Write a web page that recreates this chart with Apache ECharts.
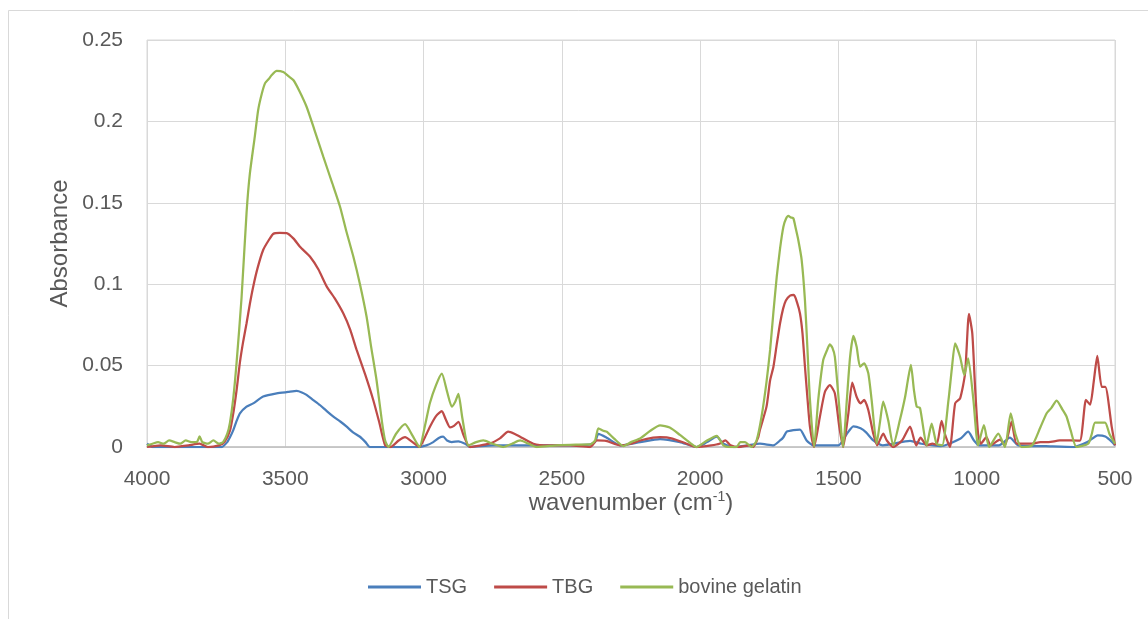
<!DOCTYPE html>
<html>
<head>
<meta charset="utf-8">
<script src="https://cdn.jsdelivr.net/npm/echarts@6/dist/echarts.min.js"></script>
<style>
html,body{margin:0;padding:0;background:#fff;}
#chart{width:1148px;height:619px;}
</style>
</head>
<body>
<div id="chart"></div>
<script>
// TSG
const tsgWn = [4000,3980,3900,3800,3730,3710,3700,3688,3676,3664,3640,3616,3580,3531,3490,3459,3440,3423,3400,3375,3350,3326,3300,3278,3255,3230,3210,3194,3100,3020,2990,2965,2945,2929,2915,2898,2874,2850,2832,2750,2650,2500,2400,2380,2368,2338,2289,2217,2145,2073,2013,1975,1940,1916,1880,1830,1784,1735,1711,1699,1687,1663,1639,1615,1590,1500,1470,1446,1420,1400,1374,1340,1241,1200,1130,1060,1031,1010,990,920,880,850,750,650,600,562,535,510,500];
const tsgAbs = [0.002,0.0,0.0,0.0,0.0,0.003,0.006,0.0104,0.016,0.0207,0.0248,0.0268,0.031,0.033,0.0338,0.0344,0.0335,0.032,0.029,0.0258,0.022,0.0186,0.0155,0.0125,0.009,0.0063,0.003,0.0,0.0,0.0,0.001,0.003,0.0055,0.0063,0.004,0.003,0.0035,0.002,0.0,0.001,0.001,0.001,0.0015,0.003,0.008,0.0057,0.001,0.003,0.0049,0.003,0.0,0.003,0.0063,0.002,0.0,0.001,0.002,0.001,0.004,0.006,0.0094,0.0104,0.0106,0.004,0.001,0.001,0.008,0.0127,0.0115,0.009,0.004,0.001,0.0037,0.002,0.0005,0.005,0.0094,0.004,0.001,0.001,0.0057,0.001,0.0005,0.0,0.003,0.0072,0.0065,0.003,0.001];

// TBG
const tbgWn = [4000,3950,3900,3850,3810,3780,3740,3720,3700,3688,3676,3664,3652,3640,3628,3616,3600,3580,3560,3543,3520,3495,3470,3447,3411,3380,3350,3320,3290,3265,3242,3210,3182,3160,3139,3120,3090,3067,3040,3015,2995,2977,2955,2934,2920,2904,2890,2874,2855,2832,2760,2724,2694,2670,2651,2603,2550,2470,2400,2390,2374,2340,2289,2250,2217,2170,2145,2100,2049,2013,1960,1930,1909,1890,1860,1820,1808,1790,1784,1760,1747,1735,1723,1711,1700,1690,1675,1661,1650,1639,1630,1621,1612,1603,1588,1567,1549,1531,1513,1497,1483,1464,1450,1434,1420,1407,1392,1374,1360,1338,1325,1302,1270,1241,1219,1203,1181,1160,1145,1127,1115,1097,1078,1060,1042,1028,1016,1006,995,985,965,950,916,898,874,855,800,770,740,700,660,627,605,590,577,564,548,535,512,500];
const tbgAbs = [0.0,0.001,0.0,0.001,0.002,0.0,0.001,0.003,0.01,0.0207,0.035,0.052,0.065,0.076,0.088,0.0985,0.110,0.121,0.127,0.131,0.1315,0.1314,0.128,0.123,0.117,0.109,0.0985,0.091,0.082,0.072,0.0596,0.044,0.0289,0.015,0.001,0.0,0.004,0.006,0.003,0.0,0.006,0.0125,0.019,0.022,0.017,0.012,0.013,0.0155,0.007,0.0,0.0022,0.0053,0.0094,0.008,0.0063,0.002,0.001,0.001,0.0,0.001,0.004,0.0037,0.001,0.002,0.004,0.0058,0.006,0.0052,0.002,0.0,0.001,0.002,0.004,0.001,0.0,0.001,0.0,0.006,0.0104,0.0248,0.041,0.0493,0.063,0.076,0.085,0.090,0.093,0.0934,0.089,0.082,0.070,0.0493,0.030,0.0125,0.0,0.0186,0.0338,0.038,0.033,0.0125,0.0,0.0207,0.0395,0.0307,0.0268,0.0289,0.0227,0.0082,0.001,0.0082,0.004,0.0,0.004,0.0125,0.001,0.0057,0.001,0.002,0.0015,0.016,0.008,0.0,0.0268,0.0299,0.0453,0.0817,0.0698,0.0369,0.008,0.002,0.006,0.001,0.0045,0.001,0.0156,0.002,0.002,0.003,0.003,0.004,0.004,0.0039,0.0289,0.026,0.040,0.0559,0.037,0.037,0.0125,0.001];

// bovine gelatin
const bovWn = [4000,3980,3960,3940,3920,3900,3880,3860,3840,3820,3810,3800,3780,3760,3740,3725,3710,3700,3688,3676,3658,3640,3628,3610,3598,3585,3573,3560,3549,3531,3507,3490,3471,3450,3423,3395,3362,3330,3302,3280,3254,3230,3206,3190,3170,3150,3139,3127,3100,3067,3040,3015,2995,2977,2955,2934,2915,2898,2885,2874,2860,2838,2810,2784,2750,2711,2680,2651,2620,2591,2519,2450,2398,2380,2368,2350,2338,2310,2277,2250,2217,2180,2145,2110,2073,2040,2013,1975,1940,1916,1890,1868,1855,1838,1814,1796,1778,1760,1747,1735,1723,1711,1699,1690,1681,1672,1663,1654,1645,1633,1621,1612,1603,1588,1573,1555,1540,1531,1522,1513,1501,1489,1483,1470,1458,1446,1434,1422,1407,1392,1380,1362,1350,1338,1320,1302,1278,1259,1248,1238,1227,1217,1205,1181,1163,1145,1125,1102,1090,1078,1060,1045,1031,1012,995,974,955,922,898,877,860,838,800,770,747,730,711,690,675,660,639,597,584,572,536,520,500];
const bovAbs = [0.001,0.002,0.003,0.002,0.004,0.003,0.002,0.004,0.003,0.003,0.0065,0.003,0.002,0.004,0.002,0.003,0.008,0.015,0.03,0.052,0.092,0.144,0.168,0.191,0.207,0.217,0.2235,0.226,0.2285,0.231,0.2303,0.228,0.2254,0.219,0.209,0.195,0.178,0.162,0.1476,0.133,0.117,0.100,0.080,0.062,0.041,0.015,0.004,0.0,0.008,0.014,0.007,0.0,0.013,0.027,0.038,0.045,0.034,0.0248,0.028,0.0326,0.018,0.001,0.003,0.004,0.002,0.0,0.002,0.004,0.002,0.0,0.001,0.0015,0.0016,0.004,0.0115,0.010,0.0094,0.005,0.0006,0.003,0.0053,0.010,0.0133,0.012,0.0074,0.003,0.0,0.004,0.0069,0.001,0.0,0.0,0.003,0.003,0.0,0.004,0.0186,0.04,0.0596,0.083,0.1046,0.122,0.1353,0.140,0.1419,0.141,0.1405,0.134,0.127,0.115,0.090,0.060,0.0289,0.0,0.0289,0.0534,0.060,0.063,0.061,0.0555,0.033,0.008,0.0,0.028,0.055,0.0682,0.0614,0.0493,0.0514,0.0453,0.0289,0.002,0.015,0.0278,0.0164,0.001,0.0164,0.0307,0.042,0.0504,0.035,0.0248,0.024,0.001,0.0143,0.002,0.001,0.0289,0.048,0.0637,0.0553,0.0442,0.0545,0.0289,0.001,0.0135,0.0,0.0082,0.0,0.0207,0.008,0.0,0.001,0.012,0.0207,0.024,0.0285,0.023,0.0186,0.010,0.0,0.002,0.008,0.015,0.015,0.008,0.002];

const seriesNames = ['TSG','TBG','bovine gelatin'];
const xTicks = {min:500, max:4000, interval:500};
const yTicks = {min:0, max:0.25, interval:0.05};

const pairs = (xs, ys) => xs.map((x,i)=>[x, ys[i]]);
const FONT = '"Liberation Sans", Arial, sans-serif';

const chart = echarts.init(document.getElementById('chart'), null, {renderer:'canvas'});
chart.setOption({
  animation:false,
  backgroundColor:'#fff',
  color:['#4A7EBB','#BE4B48','#98B954'],
  graphic:[{type:'rect', shape:{x:8.5,y:10.5,width:1300,height:800}, style:{fill:'none',stroke:'#d9d9d9',lineWidth:1}, silent:true, z:-10}],
  grid:{left:147, top:40, right:33, bottom:172, show:true, borderColor:'#d9d9d9', borderWidth:1},
  legend:{
    data:seriesNames, top:577, left:368, padding:0, itemWidth:53, itemHeight:3, itemGap:27,
    icon:'rect',
    textStyle:{fontFamily:FONT, fontSize:20, color:'#595959', padding:[0,0,0,0]}
  },
  xAxis:{
    type:'value', inverse:true, min:xTicks.min, max:xTicks.max, interval:xTicks.interval,
    name:'wavenumber (cm{sup|-1})', nameLocation:'middle', nameGap:43, nameMoveOverlap:false,
    nameTextStyle:{fontFamily:FONT, fontSize:24, color:'#595959',
      rich:{sup:{fontFamily:FONT, fontSize:14, color:'#595959', verticalAlign:'top', padding:[0,0,12,0]}}},
    axisLine:{show:true, onZero:false, lineStyle:{color:'#bfbfbf', width:1.5}},
    axisTick:{show:false},
    axisLabel:{fontFamily:FONT, fontSize:21, color:'#595959', margin:22, formatter:(v)=>String(v)},
    splitLine:{show:true, lineStyle:{color:'#d9d9d9', width:1}}
  },
  yAxis:{
    type:'value', min:yTicks.min, max:yTicks.max, interval:yTicks.interval,
    name:'Absorbance', nameLocation:'middle', nameGap:75, nameRotate:90, nameMoveOverlap:false,
    nameTextStyle:{fontFamily:FONT, fontSize:24, color:'#595959'},
    axisLine:{show:false}, axisTick:{show:false},
    axisLabel:{fontFamily:FONT, fontSize:21, color:'#595959', margin:24},
    splitLine:{show:true, lineStyle:{color:'#d9d9d9', width:1}}
  },
  series:[
    {name:seriesNames[0], type:'line', data:pairs(tsgWn,tsgAbs), showSymbol:false, smooth:0.2, lineStyle:{width:2.25}},
    {name:seriesNames[1], type:'line', data:pairs(tbgWn,tbgAbs), showSymbol:false, smooth:0.2, lineStyle:{width:2.25}},
    {name:seriesNames[2], type:'line', data:pairs(bovWn,bovAbs), showSymbol:false, smooth:0.2, lineStyle:{width:2.25}}
  ]
});
</script>
</body>
</html>
